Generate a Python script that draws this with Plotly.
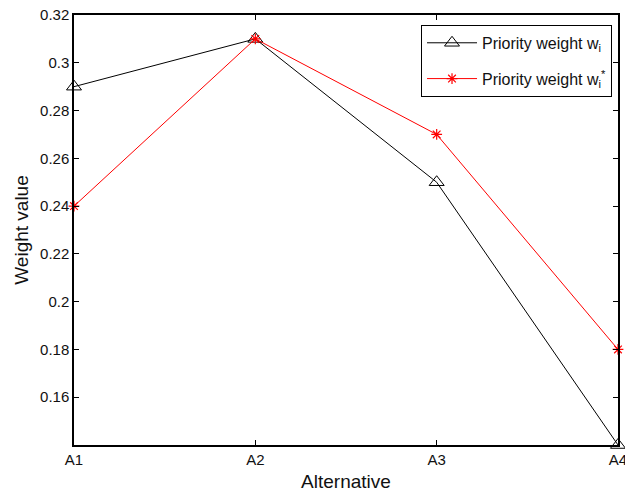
import plotly.graph_objects as go

alternatives = ["A1", "A2", "A3", "A4"]
w_i = [0.29, 0.31, 0.25, 0.14]
w_i_star = [0.24, 0.31, 0.27, 0.18]
y_ticks = [0.16, 0.18, 0.2, 0.22, 0.24, 0.26, 0.28, 0.3, 0.32]
y_ticktext = ["0.16", "0.18", "0.2", "0.22", "0.24", "0.26", "0.28", "0.3", "0.32"]

font = "Liberation Sans, Arial, Helvetica, sans-serif"

fig = go.Figure()
fig.add_trace(go.Scatter(
    x=alternatives, y=w_i, mode="lines+markers",
    name="Priority weight w<sub>i</sub>", legendgroup="a",
    line=dict(color="black", width=1),
    marker=dict(symbol="triangle-up-open", size=13, color="black", line=dict(width=1)),
    cliponaxis=False,
))
fig.add_trace(go.Scatter(
    x=alternatives, y=w_i_star, mode="lines+markers",
    name="Priority weight w<sub>i</sub><sup>*</sup>", legendgroup="b",
    line=dict(color="red", width=1),
    marker=dict(symbol="asterisk-open", size=9, color="red", line=dict(width=1.2, color="red")),
    cliponaxis=False,
))

axis_common = dict(
    showline=True, linecolor="black", linewidth=1.5, mirror="allticks",
    ticks="inside", ticklen=5, tickcolor="black", showgrid=False, zeroline=False,
    tickfont=dict(family=font, size=15, color="#111"), automargin=False,
)
fig.update_xaxes(range=[0, 3], title=dict(text="Alternative", font=dict(family=font, size=19, color="#111"), standoff=8), **axis_common)
fig.update_yaxes(range=[0.14, 0.32], tickvals=y_ticks, ticktext=y_ticktext,
                 title=dict(text="Weight value", font=dict(family=font, size=19, color="#111"), standoff=6), **axis_common)

fig.update_layout(
    width=625, height=494,
    margin=dict(l=74, r=7, t=15, b=49),
    plot_bgcolor="white", paper_bgcolor="white",
    font=dict(family=font, size=14, color="#111"),
    legend=dict(x=0.989, y=0.977, xanchor="right", yanchor="top",
                bgcolor="white", bordercolor="black", borderwidth=1,
                font=dict(family=font, size=16, color="#111"),
                itemwidth=50, tracegroupgap=12),
    showlegend=True,
)
fig.write_html("out.html", config={"displayModeBar": False},
               post_script="document.body.style.margin='0';document.body.style.overflow='hidden';")
